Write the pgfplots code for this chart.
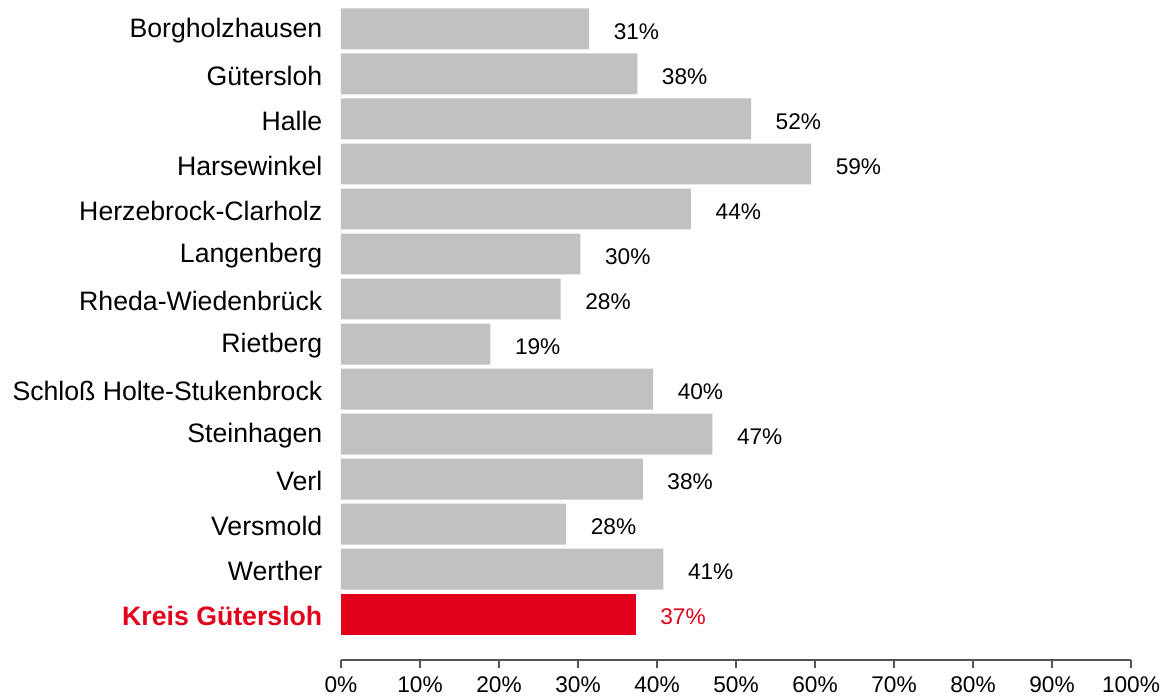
\documentclass[border=0pt]{standalone}
\usepackage{pgfplots}
\pgfplotsset{compat=1.18}
\usepackage{pgfplotstable}
\usepackage{fontspec}
\setmainfont{Liberation Sans}
\definecolor{barGray}{HTML}{C0C1C3}
\definecolor{kreisRed}{HTML}{E2001A}
\definecolor{tickGray}{HTML}{555555}

% i = position (top = 13), v = bar length, l = printed label
\pgfplotstableread{
i v l
13 31.4 31
12 37.5 38
11 51.9 52
10 59.5 59
9 44.3 44
8 30.3 30
7 27.8 28
6 18.9 19
5 39.5 40
4 47.0 47
3 38.2 38
2 28.5 28
1 40.8 41
}\towns
\pgfplotstableread{
i v l
0 37.3 37
}\kreis

\begin{document}
\begin{tikzpicture}
\begin{axis}[
    scale only axis,
    width=592.5pt, height=490.5pt,
    xbar, bar shift=0pt, bar width=0.91,
    xmin=0, xmax=100, ymin=-1.02, ymax=13.51,
    axis lines*=left,
    y axis line style={draw=none},
    x axis line style={draw=tickGray, line width=0.8pt},
    xtick={0,10,...,100},
    xticklabel={\pgfmathprintnumber{\tick}\%},
    tick align=outside, major tick length=6pt,
    x tick style={draw=tickGray, line width=0.8pt},
    y tick style={draw=none},
    ytick={0,...,13},
    yticklabels={{\textcolor{kreisRed}{\textbf{Kreis Gütersloh}}},Werther,Versmold,Verl,Steinhagen,Schloß Holte-Stukenbrock,Rietberg,Rheda-Wiedenbrück,Langenberg,Herzebrock-Clarholz,Harsewinkel,Halle,Gütersloh,Borgholzhausen},
    yticklabel style={font=\fontsize{20}{24}\selectfont, xshift=-4.5pt, yshift=-1.5pt},
    xticklabel style={font=\fontsize{17}{20}\selectfont, yshift=-3pt},
    /pgf/number format/assume math mode=true,
    point meta=explicit,
    nodes near coords={\pgfmathprintnumber{\pgfplotspointmeta}\%},
    nodes near coords style={font=\fontsize{17}{20}\selectfont, anchor=west, xshift=15pt, yshift=-2pt},
    clip=false,
]
\addplot[fill=barGray, draw=none] table[x=v, y=i, meta=l] {\towns};
\addplot[fill=kreisRed, draw=none, nodes near coords style={text=kreisRed}] table[x=v, y=i, meta=l] {\kreis};
\coordinate (sw) at (rel axis cs:0,0);
\end{axis}
\pgfresetboundingbox
\path (sw) ++(-255.75pt,-27pt) rectangle ++(871.5pt,522pt);
\end{tikzpicture}
\end{document}
